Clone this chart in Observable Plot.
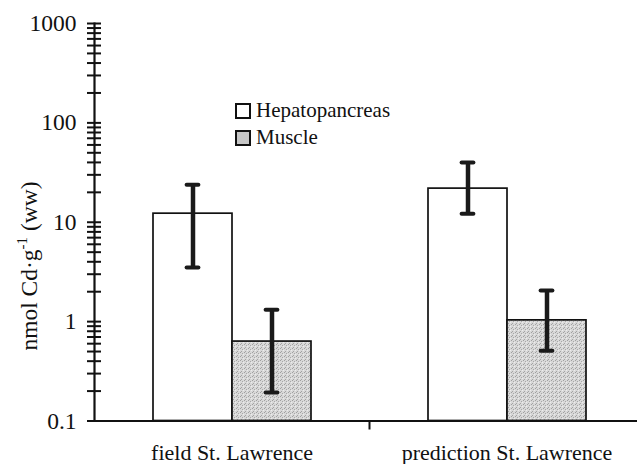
<!DOCTYPE html>
<html>
<head>
<meta charset="utf-8">
<script src="https://cdn.jsdelivr.net/npm/d3@7"></script>
<script src="https://cdn.jsdelivr.net/npm/@observablehq/plot@0.6"></script>
<style>
  html, body { margin: 0; padding: 0; background: #fff; overflow: hidden; }
  #wrap { position: relative; width: 637px; height: 464px; font-family: "Liberation Serif", "Times New Roman", serif; color: #111; }
  #ylabel { position: absolute; left: 30px; top: 266px; transform: translate(-50%, -50%) rotate(-90deg); font-size: 23.5px; white-space: nowrap; line-height: 1; }
  #ylabel sup { font-size: 15px; vertical-align: 10px; line-height: 0; }
  #legend { position: absolute; left: 235px; top: 97px; font-size: 21px; line-height: 27px; }
  #legend .row { display: flex; align-items: center; height: 27px; }
  #legend .sw { display: inline-block; width: 12px; height: 12px; border: 2px solid #111; margin-right: 5px; }
</style>
</head>
<body>
<svg width="0" height="0" style="position:absolute">
  <defs>
    <pattern id="stipple" width="4" height="4" patternUnits="userSpaceOnUse">
      <rect width="4" height="4" fill="#d8d8d8"></rect>
      <rect x="0" y="0" width="1" height="1" fill="#a0a0a0"></rect>
      <rect x="2" y="1" width="1" height="1" fill="#a8a8a8"></rect>
      <rect x="1" y="3" width="1" height="1" fill="#a4a4a4"></rect>
      <rect x="3" y="2" width="1" height="1" fill="#ececec"></rect>
    </pattern>
  </defs>
</svg>
<div id="wrap">
  <div id="ylabel">nmol Cd·g<sup>-1</sup> (ww)</div>
  <div id="legend"></div>
</div>
<script>
// ---- data ----
const locations = ["field St. Lawrence", "prediction St. Lawrence"];
const tissues = ["Hepatopancreas", "Muscle"];
const hepMean = [12.2, 21.8];
const hepLow  = [3.5, 12.2];
const hepHigh = [23.9, 39.9];
const musMean = [0.63, 1.03];
const musLow  = [0.194, 0.51];
const musHigh = [1.32, 2.06];
const yTickValues = [0.1, 1, 10, 100, 1000];
const yTickLabels = ["0.1", "1", "10", "100", "1000"];
const tissueFills = ["#ffffff", "url(#stipple)"];
const legendFills = ["#ffffff", "#c6c6c6"];

// ---- build table ----
const rows = [];
locations.forEach((loc, i) => {
  rows.push({loc, tissue: tissues[0], mean: hepMean[i], low: hepLow[i], high: hepHigh[i]});
  rows.push({loc, tissue: tissues[1], mean: musMean[i], low: musLow[i], high: musHigh[i]});
});

// minor + major ticks on log axis
const allTicks = [];
yTickValues.forEach((d, i) => {
  allTicks.push(d);
  if (i < yTickValues.length - 1) for (let m = 2; m <= 9; m++) allTicks.push(+(d * m).toPrecision(3));
});
const fmt = (v) => { const k = yTickValues.indexOf(v); return k >= 0 ? yTickLabels[k] : ""; };

const chart = Plot.plot({
  width: 637,
  height: 464,
  marginLeft: 94,
  marginRight: -7,
  marginTop: 23,
  marginBottom: 43.5,
  style: {fontFamily: "Liberation Serif, Times New Roman, serif", fontSize: "22px", color: "#111", background: "transparent", overflow: "visible"},
  fx: {domain: locations, padding: 0, label: null},
  x: {domain: tissues, padding: 0, insetLeft: 58.5, insetRight: 58.5, axis: null},
  y: {type: "log", domain: [0.1, 1000], label: null},
  color: {domain: tissues, range: tissueFills},
  marks: [
    Plot.barY(rows, {fx: "loc", x: "tissue", y1: 0.1, y2: "mean", fill: "tissue", stroke: "#111", strokeWidth: 1.7}),
    Plot.ruleX(rows, {fx: "loc", x: "tissue", y1: "low", y2: "high", stroke: "#1a1a1a", strokeWidth: 4.5}),
    Plot.tickY(rows, {fx: "loc", x: "tissue", y: "low", stroke: "#1a1a1a", strokeWidth: 4, strokeLinecap: "round", insetLeft: 33.6, insetRight: 33.6}),
    Plot.tickY(rows, {fx: "loc", x: "tissue", y: "high", stroke: "#1a1a1a", strokeWidth: 4, strokeLinecap: "round", insetLeft: 33.6, insetRight: 33.6}),
    Plot.ruleY([0.1], {stroke: "#111", strokeWidth: 1.8}),
    Plot.frame({anchor: "left", facetAnchor: "left", stroke: "#111", strokeWidth: 2.2}),
    Plot.axisY({ticks: allTicks, tickSize: 14, dx: 7, tickPadding: 11, tickFormat: fmt, label: null, strokeWidth: 2, fontSize: 23.5}),
    Plot.axisFx({anchor: "bottom", tickSize: 0, tickPadding: 23, label: null}),
    Plot.axisFx([locations[0]], {anchor: "bottom", tickSize: 9, dx: 137.5, tickFormat: () => "", label: null, strokeWidth: 2})
  ]
});
document.getElementById("wrap").prepend(chart);

// legend
const legend = document.getElementById("legend");
tissues.forEach((t, i) => {
  const row = document.createElement("div");
  row.className = "row";
  const sw = document.createElement("span");
  sw.className = "sw";
  sw.style.background = legendFills[i];
  row.appendChild(sw);
  row.appendChild(document.createTextNode(t));
  legend.appendChild(row);
});
</script>
</body>
</html>
